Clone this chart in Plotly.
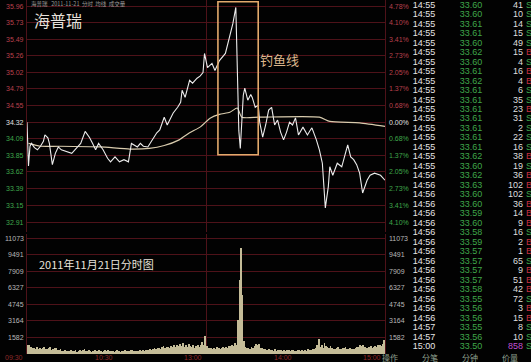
import plotly.graph_objects as go

# ---------------- data ----------------
prev_close = 34.32

price_minutes = [0, 1, 2, 3, 5, 7, 9, 11, 12, 14, 15, 17, 19, 21, 23, 27, 30, 33, 36, 39,
                 42, 44, 46, 48, 51, 54, 56, 59, 62, 65, 68, 70, 74, 76, 78, 81, 84, 87, 89, 92,
                 94, 98, 101, 103, 104, 106, 109, 111, 114, 116, 118, 119, 121, 124, 126, 129, 133, 136, 138, 140,
                 141, 142, 143, 144, 145, 146, 148, 150, 151, 153, 155, 156, 158, 160, 162, 164, 166, 168, 170, 172,
                 174, 176, 178, 180, 182, 185, 188, 190, 191, 194, 196, 198, 199, 200, 202, 203, 205, 208, 211, 213,
                 215, 217, 219, 221, 223, 225, 228, 230, 233, 237, 240]
price_values = [34.32, 33.70, 33.98, 34.02, 33.96, 33.93, 33.98, 34.05, 34.14, 34.10, 34.02, 33.72, 33.88, 33.97, 33.93, 33.90, 33.88, 33.95, 34.02, 34.19,
                34.10, 34.02, 33.93, 34.02, 33.93, 33.81, 33.76, 33.83, 33.76, 33.79, 33.76, 34.02, 33.97, 34.02, 33.98, 33.97, 34.07, 34.17, 34.21, 34.39,
                34.28, 34.45, 34.53, 34.60, 34.77, 34.67, 34.91, 34.87, 34.94, 34.97, 35.02, 35.29, 35.09, 35.15, 35.05, 35.19, 35.29, 35.52, 35.71, 35.94,
                35.00, 34.20, 33.95, 34.35, 34.70, 34.80, 34.63, 34.71, 34.67, 34.53, 34.56, 34.32, 34.11, 34.28, 34.49, 34.53, 34.28, 34.35, 34.18, 34.07,
                34.18, 34.32, 34.28, 34.38, 34.14, 34.25, 34.14, 34.21, 34.24, 34.07, 33.93, 33.74, 33.43, 33.11, 33.41, 33.69, 33.57, 33.74, 33.69, 33.83,
                34.00, 33.83, 33.79, 33.72, 33.60, 33.32, 33.50, 33.57, 33.60, 33.57, 33.50]

avg_minutes = [1, 9, 22, 49, 69, 82, 92, 102, 109, 116, 123, 129, 136, 141, 144, 156, 196, 203, 223, 240]
avg_values = [34.02, 33.98, 33.98, 33.97, 33.94, 33.95, 33.99, 34.07, 34.17, 34.25, 34.38, 34.43, 34.46, 34.52,
              34.39, 34.39, 34.39, 34.33, 34.31, 34.26]

volumes = [
    900, 820, 640, 560, 600, 480, 700, 520, 610, 450, 580, 630, 520, 470, 560, 690, 430, 510, 620, 540,
    400, 380, 450, 300, 260, 350, 280, 240, 320, 410, 290, 260, 350, 230, 300, 380, 270, 420, 500, 330,
    280, 350, 260, 220, 310, 400, 240, 290, 360, 270, 230, 300, 340, 260, 410, 280, 250, 320, 230, 290,
    340, 270, 220, 300, 250, 380, 260, 310, 240, 420, 350, 280, 330, 260, 300, 390, 270, 340, 300, 360,
    410, 380, 450, 390, 520, 600, 480, 550, 620, 500, 680, 720, 560, 640, 700, 590, 760, 650, 820, 700,
    880, 740, 960, 800, 1050, 700, 860, 650, 920, 780, 700, 840, 620, 760, 900, 680, 820, 1100, 900, 1720,
    760, 620, 540, 600, 480, 560, 520, 640, 580, 500, 620, 700, 560, 680, 620, 760, 720, 880, 760, 1050,
    900, 3250, 7070, 10100, 5630, 1200, 700, 620, 560, 520, 640, 580, 720, 950, 880, 950, 600, 540, 480, 520,
    420, 380, 460, 350, 400, 330, 440, 300, 380, 420, 350, 310, 400, 280, 360, 420, 300, 340, 390, 330,
    300, 360, 410, 280, 340, 300, 380, 320, 450, 400, 360, 520, 480, 600, 900, 1430, 700, 860, 620, 1050,
    780, 640, 560, 720, 600, 520, 480, 580, 640, 500, 460, 540, 600, 680, 520, 480, 560, 500, 440, 520,
    580, 640, 700, 820, 760, 900, 680, 600, 560, 640, 720, 600, 680, 760, 700, 820, 900, 760, 980, 1300,
]

price_ticks = [35.96, 35.73, 35.49, 35.26, 35.02, 34.79, 34.55, 34.32, 34.09, 33.85, 33.62, 33.39, 33.15, 32.91]
pct_labels = ["4.78%", "4.10%", "3.41%", "2.73%", "2.05%", "1.37%", "0.68%", "0.00%",
              "0.68%", "1.37%", "2.05%", "2.73%", "3.41%", "4.10%"]
vol_ticks = [11073, 9491, 7909, 6327, 4745, 3164, 1582]
time_labels = ["09:30", "10:30", "13:00", "14:00", "15:00"]
time_label_minutes = [0, 60, 120, 180, 240]

tick_times = ["14:55"] * 18 + ["14:56"] * 16 + ["14:57", "14:57", "15:00"]
tick_prices = [33.60, 33.60, 33.61, 33.61, 33.60, 33.62, 33.60, 33.61, 33.62, 33.61, 33.61, 33.61, 33.61, 33.61,
               33.61, 33.61, 33.62, 33.60,
               33.62, 33.63, 33.60, 33.60, 33.59, 33.60, 33.58, 33.59, 33.57, 33.57, 33.57, 33.57, 33.58, 33.55,
               33.56, 33.56,
               33.55, 33.56, 33.50]
tick_vols = [41, 10, 14, 15, 49, 15, 4, 16, 4, 6, 35, 23, 31, 2, 22, 16, 38, 19,
             36, 102, 102, 36, 14, 9, 16, 2, 1, 65, 9, 51, 42, 72, 3, 15,
             8, 10, 858]
tick_side = ["S", "S", "S", "S", "S", "B", "S", "B", "B", "S", "S", "B", "S", "S", "S", "S", "B", "S",
             "B", "B", "S", "B", "B", "B", "S", "B", "B", "S", "B", "B", "B", "S", "B", "B",
             "S", "S", "S"]
footer_tabs = ["操作", "分笔", "分钟", "价量"]

# ---------------- style ----------------
W, H = 531, 362
BG = "#020202"
GRID = "#4e1219"
RED_TXT = "#b8404c"
GREEN_TXT = "#3fa64a"
GREY_TXT = "#b8b8b8"
CJK = "Noto Sans CJK SC"
NUM = "Liberation Sans"

x_dom = [27 / W, 385 / W]
price_dom = [1 - 232 / H, 1]
vol_dom = [(H - 354) / H, (H - 234) / H]
price_range = [32.769, 36.045]
vol_range = [0, 11455]

fig = go.Figure()

# volume bars
fig.add_trace(go.Bar(
    x=[i + 0.5 for i in range(len(volumes))], y=volumes,
    xaxis="x2", yaxis="y2",
    marker=dict(color="#c4bc98", line=dict(width=0)),
    width=0.55, hoverinfo="skip"))

# average price line
fig.add_trace(go.Scatter(x=avg_minutes, y=avg_values, mode="lines",
                         line=dict(color="#d9ccae", width=1.2, shape="spline", smoothing=0.6),
                         hoverinfo="skip"))
# price line
fig.add_trace(go.Scatter(x=price_minutes, y=price_values, mode="lines",
                         line=dict(color="#ececec", width=1.1),
                         hoverinfo="skip"))

# tick table (right panel)
row_idx = list(range(len(tick_times)))
tbl_font = dict(family="Liberation Sans Narrow, " + NUM, size=9)
fig.add_trace(go.Scatter(x=[424] * len(row_idx), y=row_idx, mode="text", text=tick_times,
                         textfont=dict(color="#e6e6e6", **tbl_font), xaxis="x3", yaxis="y3",
                         hoverinfo="skip", cliponaxis=False))
fig.add_trace(go.Scatter(x=[471] * len(row_idx), y=row_idx, mode="text",
                         text=[f"{p:.2f}" for p in tick_prices],
                         textfont=dict(color=[GREEN_TXT if p < prev_close else RED_TXT for p in tick_prices],
                                       **tbl_font),
                         xaxis="x3", yaxis="y3", hoverinfo="skip", cliponaxis=False))
fig.add_trace(go.Scatter(x=[523] * len(row_idx), y=row_idx, mode="text",
                         text=[str(v) for v in tick_vols], textposition="middle left",
                         textfont=dict(color=["#c050d0" if v >= 500 else "#dedede" for v in tick_vols],
                                       **tbl_font),
                         xaxis="x3", yaxis="y3", hoverinfo="skip", cliponaxis=False))
fig.add_trace(go.Scatter(x=[529] * len(row_idx), y=row_idx, mode="text", text=tick_side,
                         textfont=dict(color=["#c83040" if s == "B" else GREEN_TXT for s in tick_side],
                                       **tbl_font),
                         xaxis="x3", yaxis="y3", hoverinfo="skip", cliponaxis=False))

annotations = []
# price axis labels
for p, pct in zip(price_ticks, pct_labels):
    if abs(p - prev_close) < 1e-6:
        col = "#e0e0e0"
    elif p > prev_close:
        col = RED_TXT
    else:
        col = GREEN_TXT
    annotations.append(dict(x=26 / W, xref="paper", y=p, yref="y", text=f"{p:.2f}", showarrow=False,
                            xanchor="right", yanchor="middle", font=dict(family=NUM, size=7, color=col)))
    annotations.append(dict(x=387 / W, xref="paper", y=p, yref="y", text=pct, showarrow=False,
                            xanchor="left", yanchor="middle", font=dict(family=NUM, size=7, color=col)))
# volume axis labels
for v in vol_ticks:
    for xx, anc in ((26 / W, "right"), (387 / W, "left")):
        annotations.append(dict(x=xx, xref="paper", y=v, yref="y2", text=str(v), showarrow=False,
                                xanchor=anc, yanchor="middle", font=dict(family=NUM, size=7, color=GREY_TXT)))
# time labels
for t, m in zip(time_labels, time_label_minutes):
    annotations.append(dict(x=m, xref="x", y=(H - 357) / H, yref="paper", text=t, showarrow=False,
                            xanchor="right", yanchor="middle", xshift=-2,
                            font=dict(family=NUM, size=7, color="#8e2a2a")))
# footer tabs
for t, xp in zip(footer_tabs, [390, 430, 470, 510]):
    annotations.append(dict(x=xp / W, xref="paper", y=(H - 357) / H, yref="paper", text=t, showarrow=False,
                            xanchor="center", yanchor="middle",
                            font=dict(family=CJK, size=8, color="#8fa08f")))
# header
annotations.append(dict(x=30 / W, xref="paper", y=1 - 4 / H, yref="paper", borderpad=0,
                        text="海普瑞   2011-11-21  分时  均线  成交量", showarrow=False,
                        xanchor="left", yanchor="middle", font=dict(family=CJK, size=5.5, color="#9a9a9a")))
# titles
annotations.append(dict(x=33 / W, xref="paper", y=1 - 20 / H, yref="paper", text="海普瑞", showarrow=False,
                        borderpad=0, xanchor="left", yanchor="middle",
                        font=dict(family=CJK, size=16, color="#e6e0da")))
annotations.append(dict(x=37 / W, xref="paper", y=(H - 264) / H, yref="paper", text="2011年11月21日分时图",
                        showarrow=False, xanchor="left", yanchor="middle",
                        font=dict(family=CJK, size=11, color="#e8e4dc")))
annotations.append(dict(x=169.6, xref="x", y=35.21, yref="y", text="钓鱼线", showarrow=False,
                        xanchor="center", yanchor="middle", font=dict(family=CJK, size=13, color="#dcb68c")))

shapes = [dict(type="rect", xref="x", yref="y", x0=128, x1=155, y0=33.86, y1=36.02,
               line=dict(color="#e2aa6c", width=1.6), fillcolor="rgba(0,0,0,0)")]

axis_common = dict(showline=False, zeroline=False, showticklabels=False, ticks="")
fig.update_layout(
    width=W, height=H, margin=dict(l=0, r=0, t=0, b=0),
    paper_bgcolor=BG, plot_bgcolor=BG, showlegend=False, bargap=0,
    xaxis=dict(domain=x_dom, range=[0, 240], anchor="y", tickvals=[120], showgrid=True,
               gridcolor=GRID, gridwidth=1, **axis_common),
    yaxis=dict(domain=price_dom, range=price_range, anchor="x", tickvals=price_ticks, showgrid=True,
               gridcolor=GRID, gridwidth=1, showline=True, mirror=True, linecolor=GRID, linewidth=1,
               zeroline=False, showticklabels=False, ticks=""),
    xaxis2=dict(domain=x_dom, range=[0, 240], anchor="y2", matches="x", tickvals=[120], showgrid=True,
                gridcolor=GRID, gridwidth=1, **axis_common),
    yaxis2=dict(domain=vol_dom, range=vol_range, anchor="x2", tickvals=vol_ticks, showgrid=True,
                gridcolor=GRID, gridwidth=1, showline=True, mirror=True, linecolor=GRID, linewidth=1,
                zeroline=False, showticklabels=False, ticks=""),
    xaxis3=dict(domain=[410 / W, 1], range=[410, 531], anchor="y3", showgrid=False, **axis_common),
    yaxis3=dict(domain=[0, 1], range=[37.61, -0.58], anchor="x3", showgrid=False, **axis_common),
    annotations=annotations, shapes=shapes,
)

fig.write_html("out.html")
